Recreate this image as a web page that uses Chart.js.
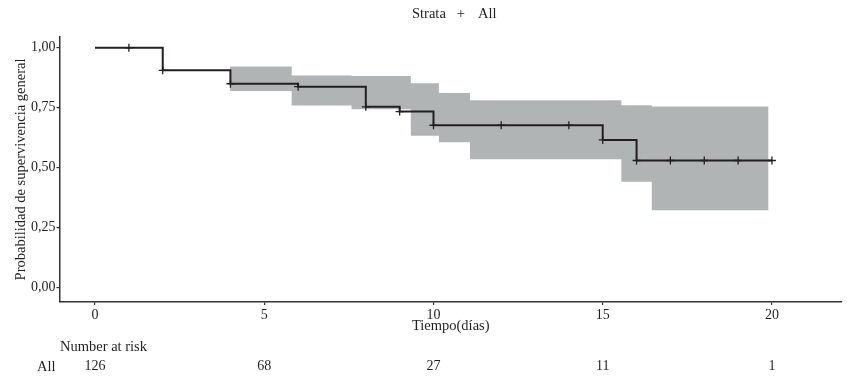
<!DOCTYPE html>
<html>
<head>
<meta charset="utf-8">
<script src="https://cdn.jsdelivr.net/npm/chart.js@4.4.1/dist/chart.umd.min.js"></script>
<style>
  html, body { margin: 0; padding: 0; background: #ffffff; }
  #wrap { position: relative; width: 850px; height: 377px; overflow: hidden; }
  #c { position: absolute; left: 0; top: 0; }
  .txt { position: absolute; font-family: "Liberation Serif", "DejaVu Serif", serif; font-size: 14.5px; color: #231f20; white-space: nowrap; line-height: 16px; }
  .num { font-size: 14px; }
</style>
</head>
<body>
<div id="wrap">
  <canvas id="c" width="850" height="377"></canvas>
  <div id="legend" class="txt" style="left:412px; top:5px;">Strata<span style="display:inline-block; margin:0 13px 0 11px;">+</span>All</div>
  <div id="riskTitle" class="txt" style="left:60px; top:338px;">Number at risk</div>
  <div id="riskLabel" class="txt" style="left:37px; top:358px;">All</div>
</div>
<script>
// ---- data ----
const kmTimes = [0, 2, 4, 6, 8, 9, 10, 15, 16, 20];
const kmSurv  = [1.000, 0.906, 0.850, 0.838, 0.754, 0.734, 0.677, 0.616, 0.530, 0.530];

const censorTimes = [1, 2, 4, 6, 8, 9, 10, 12, 14, 15, 16, 17, 18, 19, 20];
const censorSurv  = [1.000, 0.906, 0.850, 0.838, 0.754, 0.734, 0.677, 0.677, 0.677, 0.616, 0.530, 0.530, 0.530, 0.530, 0.530];

const ciTimes = [3.99, 5.81, 7.58, 9.33, 10.16, 11.08, 15.55, 16.45, 19.9];
const ciUpper = [0.922, 0.884, 0.882, 0.852, 0.811, 0.781, 0.760, 0.755, 0.755];
const ciLower = [0.820, 0.759, 0.744, 0.633, 0.606, 0.535, 0.441, 0.323, 0.323];

const riskTimes  = [0, 5, 10, 15, 20];
const riskCounts = [126, 68, 27, 11, 1];

const xTickValues = [0, 5, 10, 15, 20];
const yTickValues = [0, 0.25, 0.5, 0.75, 1];

const xTitle = 'Tiempo(días)';
const yTitle = 'Probabilidad de supervivencia general';

// ---- build chart ----
const toPts = (xs, ys) => xs.map((x, i) => ({ x: x, y: ys[i] }));
const FONT = '"Liberation Serif", "DejaVu Serif", serif';
const INK = '#231f20';
const AXIS = '#333333';
const BAND = '#b1b4b5';

const chart = new Chart(document.getElementById('c'), {
  type: 'line',
  data: {
    datasets: [
      {
        label: 'All',
        data: toPts(kmTimes, kmSurv),
        stepped: true,
        borderColor: INK,
        borderWidth: 2,
        pointRadius: 0,
        fill: false
      },
      {
        label: 'censor',
        data: toPts(censorTimes, censorSurv),
        showLine: false,
        pointStyle: 'cross',
        pointRadius: 4,
        pointBorderWidth: 1.3,
        pointBorderColor: INK,
        borderColor: INK
      },
      {
        label: 'upper',
        data: toPts(ciTimes, ciUpper),
        stepped: true,
        borderWidth: 0,
        borderColor: 'rgba(0,0,0,0)',
        backgroundColor: BAND,
        pointRadius: 0,
        fill: '+1'
      },
      {
        label: 'lower',
        data: toPts(ciTimes, ciLower),
        stepped: true,
        borderWidth: 0,
        borderColor: 'rgba(0,0,0,0)',
        pointRadius: 0,
        fill: false
      }
    ]
  },
  options: {
    responsive: false,
    devicePixelRatio: 1,
    animation: false,
    events: [],
    layout: { padding: { left: 0, right: 8, top: 37, bottom: 42 } },
    plugins: {
      legend: { display: false },
      tooltip: { enabled: false },
      title: { display: false }
    },
    scales: {
      x: {
        type: 'linear',
        min: -1.05,
        max: 22.07,
        afterBuildTicks: s => { s.ticks = xTickValues.map(v => ({ value: v })); },
        afterFit: s => { s.height = 33; },
        grid: { display: true, drawOnChartArea: false, drawTicks: true, tickLength: 3, color: AXIS, lineWidth: 1.2 },
        border: { display: true, color: AXIS, width: 1.5 },
        ticks: { autoSkip: false, maxRotation: 0, padding: 2, color: INK, font: { family: FONT, size: 14 }, callback: v => String(v) },
        title: { display: true, text: xTitle, color: INK, font: { family: FONT, size: 14.5 }, padding: { top: 0, bottom: 0 } }
      },
      y: {
        type: 'linear',
        min: -0.06,
        max: 1.045,
        afterBuildTicks: s => { s.ticks = yTickValues.map(v => ({ value: v })); },
        afterFit: s => { s.width = 59.5; },
        grid: { display: true, drawOnChartArea: false, drawTicks: true, tickLength: 3, color: AXIS, lineWidth: 1.2 },
        border: { display: true, color: AXIS, width: 1.5 },
        ticks: { autoSkip: false, padding: 1, color: INK, font: { family: FONT, size: 14 }, callback: v => v.toFixed(2).replace('.', ',') },
        title: { display: true, text: yTitle, color: INK, font: { family: FONT, size: 14.5 }, padding: { top: 12, bottom: 0 } }
      }
    }
  }
});

// ---- number-at-risk row, placed with the chart's x scale ----
const wrap = document.getElementById('wrap');
const xs = chart.scales.x;
riskTimes.forEach((t, i) => {
  const d = document.createElement('div');
  d.className = 'txt num';
  d.textContent = String(riskCounts[i]);
  d.style.top = '358px';
  d.style.left = xs.getPixelForValue(t) + 'px';
  d.style.transform = 'translateX(-50%)';
  wrap.appendChild(d);
});
</script>
</body>
</html>
